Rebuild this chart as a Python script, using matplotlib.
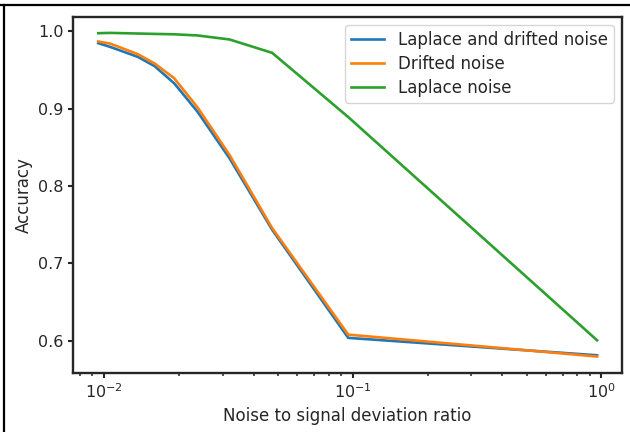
import matplotlib
matplotlib.use("Agg")
import matplotlib.pyplot as plt
from matplotlib.lines import Line2D

## data
ratio = [0.0095, 0.0106, 0.0137, 0.016, 0.0192, 0.0238, 0.032, 0.0475, 0.096, 0.96]
acc_laplace_drift = [0.9845, 0.9797, 0.9668, 0.9548, 0.9325, 0.8959, 0.8357, 0.7432, 0.6035, 0.5810]
acc_drift = [0.9867, 0.9840, 0.9703, 0.9583, 0.9390, 0.9015, 0.8400, 0.7454, 0.6077, 0.5794]
acc_laplace = [0.9974, 0.9978, 0.9970, 0.9965, 0.9960, 0.9945, 0.9893, 0.9720, 0.8890, 0.6004]

labels = ['Laplace and drifted noise', 'Drifted noise', 'Laplace noise']
colors = ['#1f77b4', '#ff7f0e', '#2ca02c']

## style, roughly seaborn "ticks" but a bit heavier
text_col = '#262626'
plt.rcParams.update({
    'axes.linewidth': 1.7,
    'axes.edgecolor': text_col,
    'axes.labelcolor': text_col,
    'xtick.color': text_col,
    'ytick.color': text_col,
    'text.color': text_col,
    'xtick.major.width': 1.5,
    'ytick.major.width': 1.5,
    'xtick.minor.width': 1.1,
    'xtick.labelsize': 11.5,
    'ytick.labelsize': 11.5,
    'axes.labelsize': 12,
    'legend.fontsize': 12,
})

fig = plt.figure(figsize=(6.3, 4.32), dpi=100)
ax = fig.add_axes([0.1164, 0.1373, 0.8709, 0.824])

for ys, lab, c in zip([acc_laplace_drift, acc_drift, acc_laplace], labels, colors):
    ax.plot(ratio, ys, color=c, lw=1.9, label=lab)

ax.set_xscale('log')
ax.set_yticks([0.6, 0.7, 0.8, 0.9, 1.0])
ax.set_xlabel('Noise to signal deviation ratio')
ax.set_ylabel('Accuracy')
ax.legend(loc='upper right', labelspacing=0.36, borderpad=0.35)

# frame lines of the cropped page (top and left)
fig.add_artist(Line2D([0, 1], [1 - 5 / 432, 1 - 5 / 432], transform=fig.transFigure, color='black', lw=1.6))
fig.add_artist(Line2D([4 / 630, 4 / 630], [0, 1 - 5 / 432], transform=fig.transFigure, color='black', lw=1.6))

fig.savefig('out.png', dpi=100)
